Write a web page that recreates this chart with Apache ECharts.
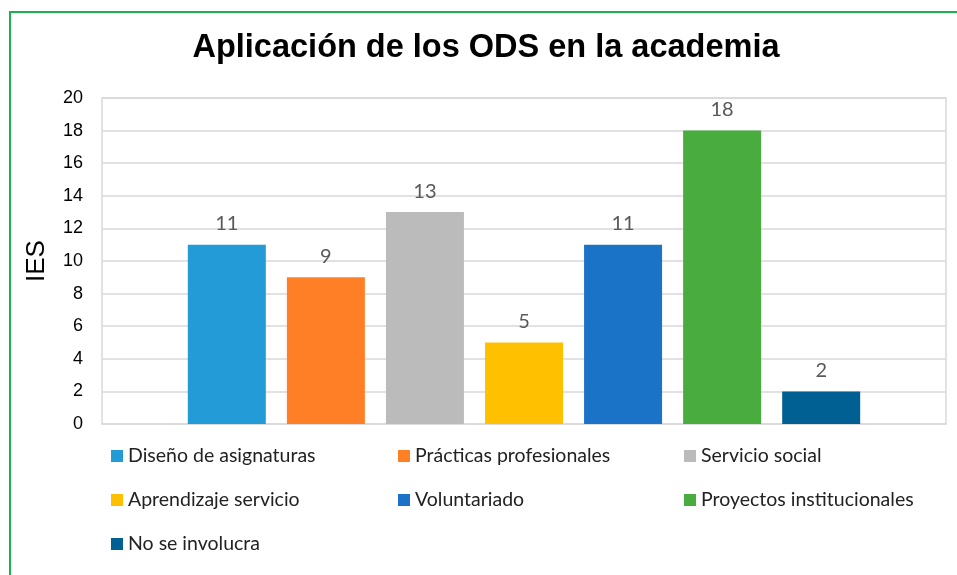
<!DOCTYPE html>
<html>
<head>
    <meta charset="utf-8">
    <title>ECharts</title>
    <script src="https://cdn.jsdelivr.net/npm/echarts@6/dist/echarts.min.js"></script>
    <style>
        html, body { margin: 0; padding: 0; background: #fff; }
    </style>
</head>
<body>
<div id="main" style="width: 957px;height:575px;"></div>
<script type="text/javascript">
    var myChart = echarts.init(document.getElementById('main'));

    // datos
    var seriesNames = ['Diseño de asignaturas', 'Prácticas profesionales', 'Servicio social',
        'Aprendizaje servicio', 'Voluntariado', 'Proyectos institucionales', 'No se involucra'];
    var seriesValues = [11, 9, 13, 5, 11, 18, 2];
    var seriesColors = ['#239BD6', '#FF7F27', '#BBBBBB', '#FFC000', '#1A73C6', '#48AD3E', '#005F93'];
    var categories = [''];

    var labelFont = 'Lato, "Open Sans", sans-serif';

    var series = seriesNames.map(function (name, i) {
        return {
            name: name,
            type: 'bar',
            barWidth: 78,
            barGap: '27%',
            itemStyle: { color: seriesColors[i] },
            label: {
                show: true,
                position: 'top',
                distance: 11,
                color: '#595959',
                fontSize: 20,
                fontFamily: labelFont
            },
            data: [seriesValues[i]]
        };
    });

    function legendCol(names, left) {
        return {
            orient: 'vertical',
            left: left,
            top: 446,
            padding: 0,
            itemWidth: 12,
            itemHeight: 12,
            itemGap: 24,
            icon: 'rect',
            selectedMode: false,
            textStyle: { fontSize: 19.5, lineHeight: 20, color: '#222', fontFamily: labelFont },
            data: names
        };
    }

    option = {
        backgroundColor: '#fff',
        animation: false,
        title: {
            text: 'Aplicación de los ODS en la academia',
            left: 481,
            textAlign: 'center',
            top: 27,
            textStyle: {
                fontSize: 32.5,
                fontWeight: 'bold',
                color: '#000',
                fontFamily: '"Liberation Sans", Arial, sans-serif'
            }
        },
        graphic: [
            { type: 'rect', shape: { x: 9, y: 11, width: 948, height: 2 }, style: { fill: '#1DB04B' } },
            { type: 'rect', shape: { x: 9, y: 11, width: 2, height: 564 }, style: { fill: '#1DB04B' } }
        ],
        legend: [
            legendCol([seriesNames[0], seriesNames[3], seriesNames[6]], 111),
            legendCol([seriesNames[1], seriesNames[4]], 398),
            legendCol([seriesNames[2], seriesNames[5]], 684)
        ],
        grid: {
            left: 102,
            right: 11,
            top: 98,
            bottom: 151,
            show: true,
            borderColor: '#D9D9D9',
            borderWidth: 1.5
        },
        xAxis: {
            type: 'category',
            data: categories,
            axisLine: { show: false },
            axisTick: { show: false },
            axisLabel: { show: false }
        },
        yAxis: {
            type: 'value',
            min: 0,
            max: 20,
            interval: 2,
            name: 'IES',
            nameLocation: 'middle',
            nameGap: 52,
            nameTextStyle: {
                fontSize: 26,
                color: '#000',
                fontFamily: '"Liberation Sans", Arial, sans-serif'
            },
            axisLine: { show: false },
            axisTick: { show: false },
            axisLabel: {
                fontSize: 18,
                color: '#000',
                margin: 19,
                fontFamily: '"Liberation Sans", Arial, sans-serif'
            },
            splitLine: { lineStyle: { color: '#D9D9D9', width: 1.5 } }
        },
        series: series
    };

    myChart.setOption(option);
</script>
</body>
</html>
